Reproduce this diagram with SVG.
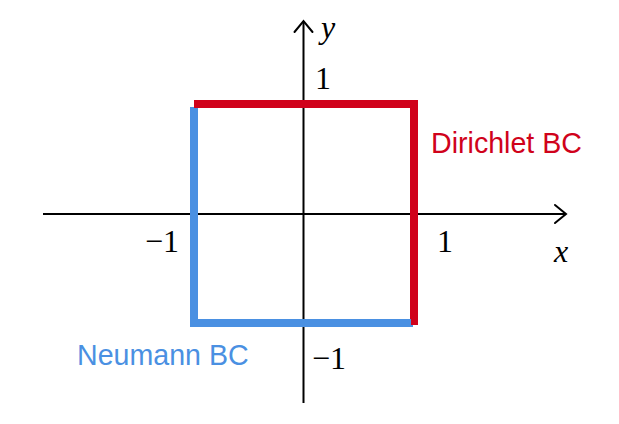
<svg xmlns="http://www.w3.org/2000/svg" width="619" height="424" viewBox="0 0 619 424">
<style>
.ax{stroke:#000;stroke-width:2;fill:none}
.head{stroke:#000;stroke-width:2;fill:none;stroke-linecap:round;stroke-linejoin:miter}
.m{font-family:"Liberation Serif","DejaVu Serif",serif;font-size:32px;fill:#000}
.mi{font-family:"Liberation Serif","DejaVu Serif",serif;font-size:32px;font-style:italic;fill:#000}
.lab{font-family:"Liberation Sans",Arial,sans-serif;font-size:28.6px}
.red{stroke:#D0021B;stroke-width:8;fill:none}
.blue{stroke:#4A90E2;stroke-width:8;fill:none}
</style>
<rect width="619" height="424" fill="#fff"/>
<g id="connectors">
<line class="ax" x1="43" y1="214" x2="566" y2="214"/>
<polyline class="head" points="555,205 566,214 555,223"/>
<line class="ax" x1="303.5" y1="403" x2="303.5" y2="21"/>
<polyline class="head" points="294.5,32 303.5,21 312.5,32"/>
</g>
<g id="neumann">
<polyline class="blue" points="194,107 194,323 413,323"/>
<text class="lab" x="77" y="365" fill="#4A90E2">Neumann BC</text>
</g>
<g id="dirichlet">
<polyline class="red" points="194,104 414,104 414,325"/>
<polyline stroke="#4A90E2" stroke-width="8" fill="none" points="395,323 411,323"/>
<text class="lab" x="431" y="153" fill="#D0021B">Dirichlet BC</text>
</g>
<g id="labels">
<text class="mi" x="321" y="38">y</text>
<text class="mi" x="554" y="262">x</text>
<text class="m" x="315" y="89">1</text>
<text class="m" x="437" y="252">1</text>
<text class="m" x="145" y="252">−1</text>
<text class="m" x="312" y="369">−1</text>
</g>
</svg>
